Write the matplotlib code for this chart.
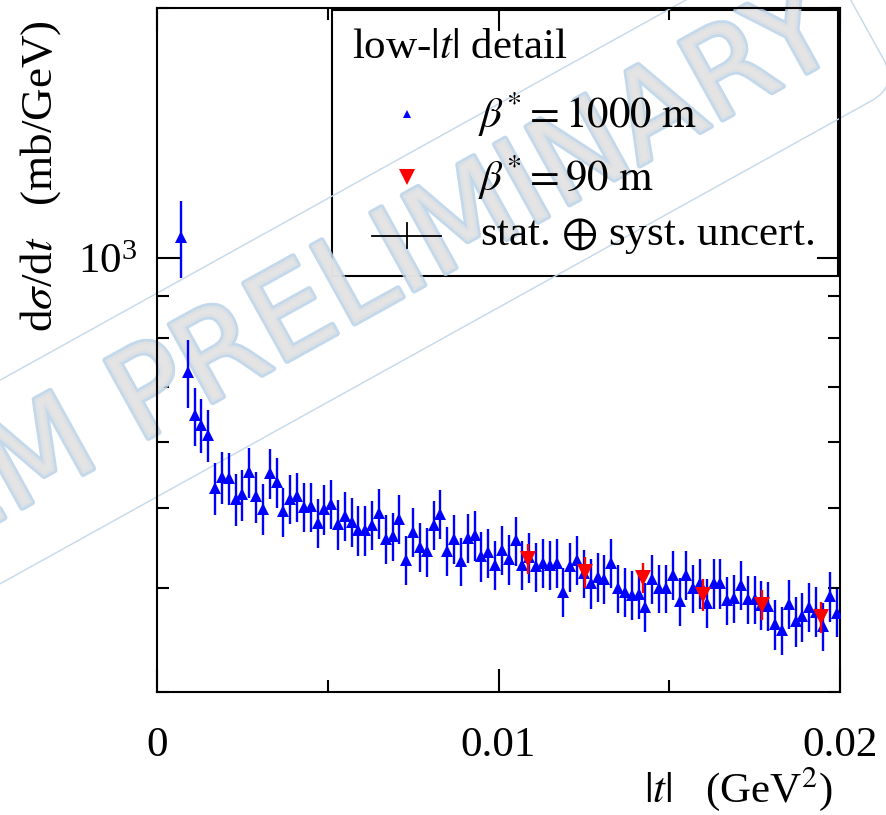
import matplotlib
matplotlib.use("Agg")
import matplotlib.pyplot as plt
import matplotlib.patheffects as pe
from matplotlib.ticker import FixedLocator, LogLocator, NullFormatter
from matplotlib.patches import Rectangle

plt.rcParams['font.family'] = ['Liberation Serif', 'DejaVu Serif']
plt.rcParams['mathtext.fontset'] = 'stix'

# === data ===
# beta* = 1000 m, low-|t| detail
t_1000 = [0.0007, 0.0009, 0.0011, 0.0013, 0.0015, 0.0017, 0.0019, 0.0021, 0.0023, 0.0025,
          0.0027, 0.0029, 0.0031, 0.0033, 0.0035, 0.0037, 0.0039, 0.0041, 0.0043, 0.0045,
          0.0047, 0.0049, 0.0051, 0.0053, 0.0055, 0.0057, 0.0059, 0.0061, 0.0063, 0.0065,
          0.0067, 0.0069, 0.0071, 0.0073, 0.0075, 0.0077, 0.0079, 0.0081, 0.0083, 0.0085,
          0.0087, 0.0089, 0.0091, 0.0093, 0.0095, 0.0097, 0.0099, 0.0101, 0.0103, 0.0105,
          0.0107, 0.0109, 0.0111, 0.0113, 0.0115, 0.0117, 0.0119, 0.0121, 0.0123, 0.0125,
          0.0127, 0.0129, 0.0131, 0.0133, 0.0135, 0.0137, 0.0139, 0.0141, 0.0143, 0.0145,
          0.0147, 0.0149, 0.0151, 0.0153, 0.0155, 0.0157, 0.0159, 0.0161, 0.0163, 0.0165,
          0.0167, 0.0169, 0.0171, 0.0173, 0.0175, 0.0177, 0.0179, 0.0181, 0.0183, 0.0185,
          0.0187, 0.0189, 0.0191, 0.0193, 0.0195, 0.0197, 0.0199]
dsdt_1000 = [1059, 728, 646, 629, 612, 528, 544, 543, 512, 519,
             552, 516, 499, 550, 537, 495, 513, 516, 501, 502,
             480, 498, 506, 478, 489, 481, 470, 470, 477, 493,
             459, 462, 485, 433, 468, 449, 443, 477, 492, 444,
             459, 431, 460, 464, 437, 442, 427, 445, 434, 457,
             427, 436, 425, 429, 427, 429, 396, 425, 433, 417,
             406, 413, 411, 429, 400, 396, 393, 394, 380, 411,
             400, 400, 415, 386, 415, 400, 406, 384, 406, 406,
             387, 389, 404, 388, 388, 382, 381, 362, 356, 383,
             365, 370, 380, 375, 360, 391, 374]
err_1000 = [112, 68, 52, 47, 44, 38, 39, 39, 37, 37,
            38, 36, 35, 38, 37, 34, 35, 35, 34, 34,
            33, 34, 34, 33, 33, 33, 32, 32, 32, 34,
            31, 31, 33, 29, 32, 31, 30, 32, 33, 30,
            31, 29, 31, 32, 30, 30, 29, 30, 30, 31,
            29, 30, 29, 29, 29, 29, 27, 29, 29, 28,
            28, 28, 28, 29, 27, 27, 27, 27, 26, 28,
            27, 27, 28, 26, 28, 27, 28, 26, 28, 28,
            26, 26, 27, 26, 26, 26, 26, 25, 24, 26,
            25, 25, 26, 26, 24, 27, 25]

# beta* = 90 m
t_90 = [0.01086, 0.01254, 0.01424, 0.01598, 0.01771, 0.01943]
dsdt_90 = [434, 418, 412, 393, 382, 369]
err_90 = [18, 18, 17, 17, 16, 16]

x_ticks = [0, 0.01, 0.02]
x_tick_labels = ['0', '0.01', '0.02']

FS = 31

# === figure ===
fig = plt.figure(figsize=(8.86, 8.15), dpi=100)
ax = fig.add_axes([0.1772, 0.1509, 0.7709, 0.8393])

ax.errorbar(t_1000, dsdt_1000, yerr=err_1000, fmt='^', color='#0000ff',
            ms=8, mew=0, elinewidth=1.7, capsize=0, zorder=3)
ax.errorbar(t_90, dsdt_90, yerr=err_90, fmt='v', color='#ff0000',
            ms=12, mew=0, elinewidth=1.7, capsize=0, zorder=4)

ax.set_yscale('log')
ax.set_ylim(300, 2000)
ax.set_xlim(0, 0.02)
ax.set_xticks(x_ticks)
ax.set_xticklabels(x_tick_labels)
ax.set_xticks([0.005, 0.015], minor=True)
ax.yaxis.set_major_locator(FixedLocator([1000]))
ax.yaxis.set_minor_locator(LogLocator(subs=[2, 3, 4, 5, 6, 7, 8, 9]))
ax.yaxis.set_minor_formatter(NullFormatter())

ax.tick_params(which='both', direction='in', top=True, right=True, width=1.5, labelsize=FS)
ax.tick_params(which='major', length=16.5)
ax.tick_params(which='minor', length=8.6)
ax.tick_params(axis='x', pad=25)
ax.tick_params(axis='y', pad=14)
for s in ax.spines.values():
    s.set_linewidth(1.5)

# axis titles
fig.text(0.046, 0.976, r'd$\sigma$/d$t$   (mb/GeV)', rotation=90, ha='center', va='top', fontsize=32.5)
fig.text(0.94, 0.032, r'$|t|$   (GeV$^2$)', ha='right', va='center', fontsize=FS)

# === legend box, drawn by hand ===
ax.add_patch(Rectangle((0.2562, 0.608), 0.741, 0.389, transform=ax.transAxes,
                       facecolor='white', edgecolor='black', lw=1.5, zorder=1))
ax.text(0.2855, 0.9415, r'low-$|t|$ detail', transform=ax.transAxes, ha='left', va='center',
        fontsize=FS, zorder=6)
ax.plot([0.366], [0.845], '^', color='#0000ff', ms=6, mew=0, transform=ax.transAxes, zorder=6)
ax.text(0.47, 0.845, r'$\beta^{*} = \mathrm{1000\ m}$', transform=ax.transAxes, ha='left',
        va='center', fontsize=FS, zorder=6)
ax.plot([0.366], [0.753], 'v', color='#ff0000', ms=12, mew=0, transform=ax.transAxes, zorder=6)
ax.text(0.47, 0.753, r'$\beta^{*} = \mathrm{90\ m}$', transform=ax.transAxes, ha='left',
        va='center', fontsize=FS, zorder=6)
ax.plot([0.3148, 0.4158], [0.667, 0.667], color='black', lw=1.3, transform=ax.transAxes, zorder=6)
ax.plot([0.366, 0.366], [0.649, 0.685], color='black', lw=1.3, transform=ax.transAxes, zorder=6)
ax.text(0.473, 0.667, r'stat. $\oplus$ syst. uncert.', transform=ax.transAxes, ha='left',
        va='center', fontsize=FS, zorder=6)

# === watermark (under the data and legend text, over the legend box) ===
ax.text(0.935, 0.972, 'TOTEM PRELIMINARY', transform=fig.transFigure, rotation=29,
        rotation_mode='anchor', ha='right', va='center', fontsize=88, family='DejaVu Sans',
        color='#e4e4e4', alpha=0.85, zorder=2, clip_on=False,
        path_effects=[pe.withStroke(linewidth=4, foreground='#b9d2e8')],
        bbox=dict(boxstyle='round,pad=0.25', facecolor='none', edgecolor='#c4d8ea', lw=1))

fig.savefig('out.png', dpi=100)
